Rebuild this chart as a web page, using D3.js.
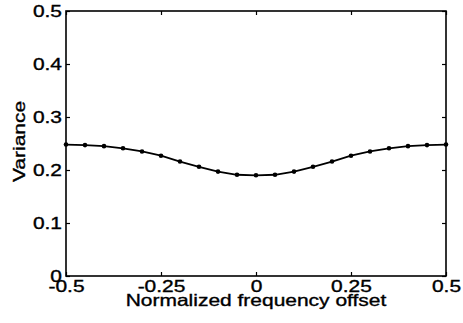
<!DOCTYPE html>
<html>
<head>
<meta charset="utf-8">
<script src="https://cdn.jsdelivr.net/npm/d3@7"></script>
<style>
  body { margin: 0; background: #fff; }
  text { font-family: "Liberation Sans", Arial, sans-serif; fill: #000; stroke: #000; stroke-width: 0.35px; }
</style>
</head>
<body>
<div id="chart"></div>
<script>
// data
const offsets = [-0.5, -0.45, -0.4, -0.35, -0.3, -0.25, -0.2, -0.15, -0.1, -0.05, 0,
                 0.05, 0.1, 0.15, 0.2, 0.25, 0.3, 0.35, 0.4, 0.45, 0.5];
const variance = [0.248, 0.247, 0.245, 0.241, 0.235, 0.227, 0.216, 0.206, 0.197, 0.191, 0.19,
                  0.191, 0.197, 0.206, 0.216, 0.227, 0.235, 0.241, 0.245, 0.247, 0.248];
const xTicks = [-0.5, -0.25, 0, 0.25, 0.5];
const xTickLabels = ["-0.5", "-0.25", "0", "0.25", "0.5"];
const yTicks = [0, 0.1, 0.2, 0.3, 0.4, 0.5];
const yTickLabels = ["0", "0.1", "0.2", "0.3", "0.4", "0.5"];

const width = 463, height = 323;
const margin = { top: 11, right: 17, bottom: 47, left: 66 };
const innerW = width - margin.left - margin.right;
const innerH = height - margin.top - margin.bottom;
const stretch = 1.27; // the original font is wide

const svg = d3.select("#chart").append("svg")
  .attr("width", width)
  .attr("height", height);

const g = svg.append("g")
  .attr("transform", `translate(${margin.left},${margin.top})`);

const x = d3.scaleLinear().domain([-0.5, 0.5]).range([0, innerW]);
const y = d3.scaleLinear().domain([0, 0.5]).range([innerH, 0]);

function widen(sel) {
  sel.each(function () {
    const w = this.getComputedTextLength();
    d3.select(this).attr("textLength", w * stretch).attr("lengthAdjust", "spacingAndGlyphs");
  });
}

function styleAxis(ax) {
  ax.select(".domain").remove();
  ax.selectAll("line").attr("stroke", "#000").attr("stroke-width", 1.2);
  ax.selectAll("text").style("font-size", "16.5px").call(widen);
}

// bottom / left with labels, top / right ticks only
g.append("g")
  .attr("transform", `translate(0,${innerH})`)
  .call(d3.axisBottom(x).tickValues(xTicks).tickFormat((d, i) => xTickLabels[i]).tickSize(-4).tickPadding(4))
  .call(styleAxis);

g.append("g")
  .call(d3.axisLeft(y).tickValues(yTicks).tickFormat((d, i) => yTickLabels[i]).tickSize(-4).tickPadding(4))
  .call(styleAxis);

g.append("g")
  .call(d3.axisTop(x).tickValues(xTicks).tickFormat("").tickSize(-4))
  .call(styleAxis);

g.append("g")
  .attr("transform", `translate(${innerW},0)`)
  .call(d3.axisRight(y).tickValues(yTicks).tickFormat("").tickSize(-4))
  .call(styleAxis);

// box
g.append("rect")
  .attr("width", innerW)
  .attr("height", innerH)
  .attr("fill", "none")
  .attr("stroke", "#000")
  .attr("stroke-width", 1.6);

// curve
const line = d3.line()
  .x((d, i) => x(offsets[i]))
  .y(d => y(d));

g.append("path")
  .datum(variance)
  .attr("fill", "none")
  .attr("stroke", "#000")
  .attr("stroke-width", 1.8)
  .attr("d", line);

g.selectAll(".dot")
  .data(variance)
  .enter().append("circle")
  .attr("class", "dot")
  .attr("cx", (d, i) => x(offsets[i]))
  .attr("cy", d => y(d))
  .attr("r", 2.3)
  .attr("fill", "#000");

// axis titles
svg.append("text")
  .attr("x", margin.left + innerW / 2)
  .attr("y", 306)
  .attr("text-anchor", "middle")
  .style("font-size", "16.5px")
  .text("Normalized frequency offset")
  .call(widen);

svg.append("text")
  .attr("transform", `translate(25,${margin.top + innerH / 2 - 2}) rotate(-90)`)
  .attr("text-anchor", "middle")
  .style("font-size", "16.5px")
  .text("Variance")
  .call(widen);
</script>
</body>
</html>
